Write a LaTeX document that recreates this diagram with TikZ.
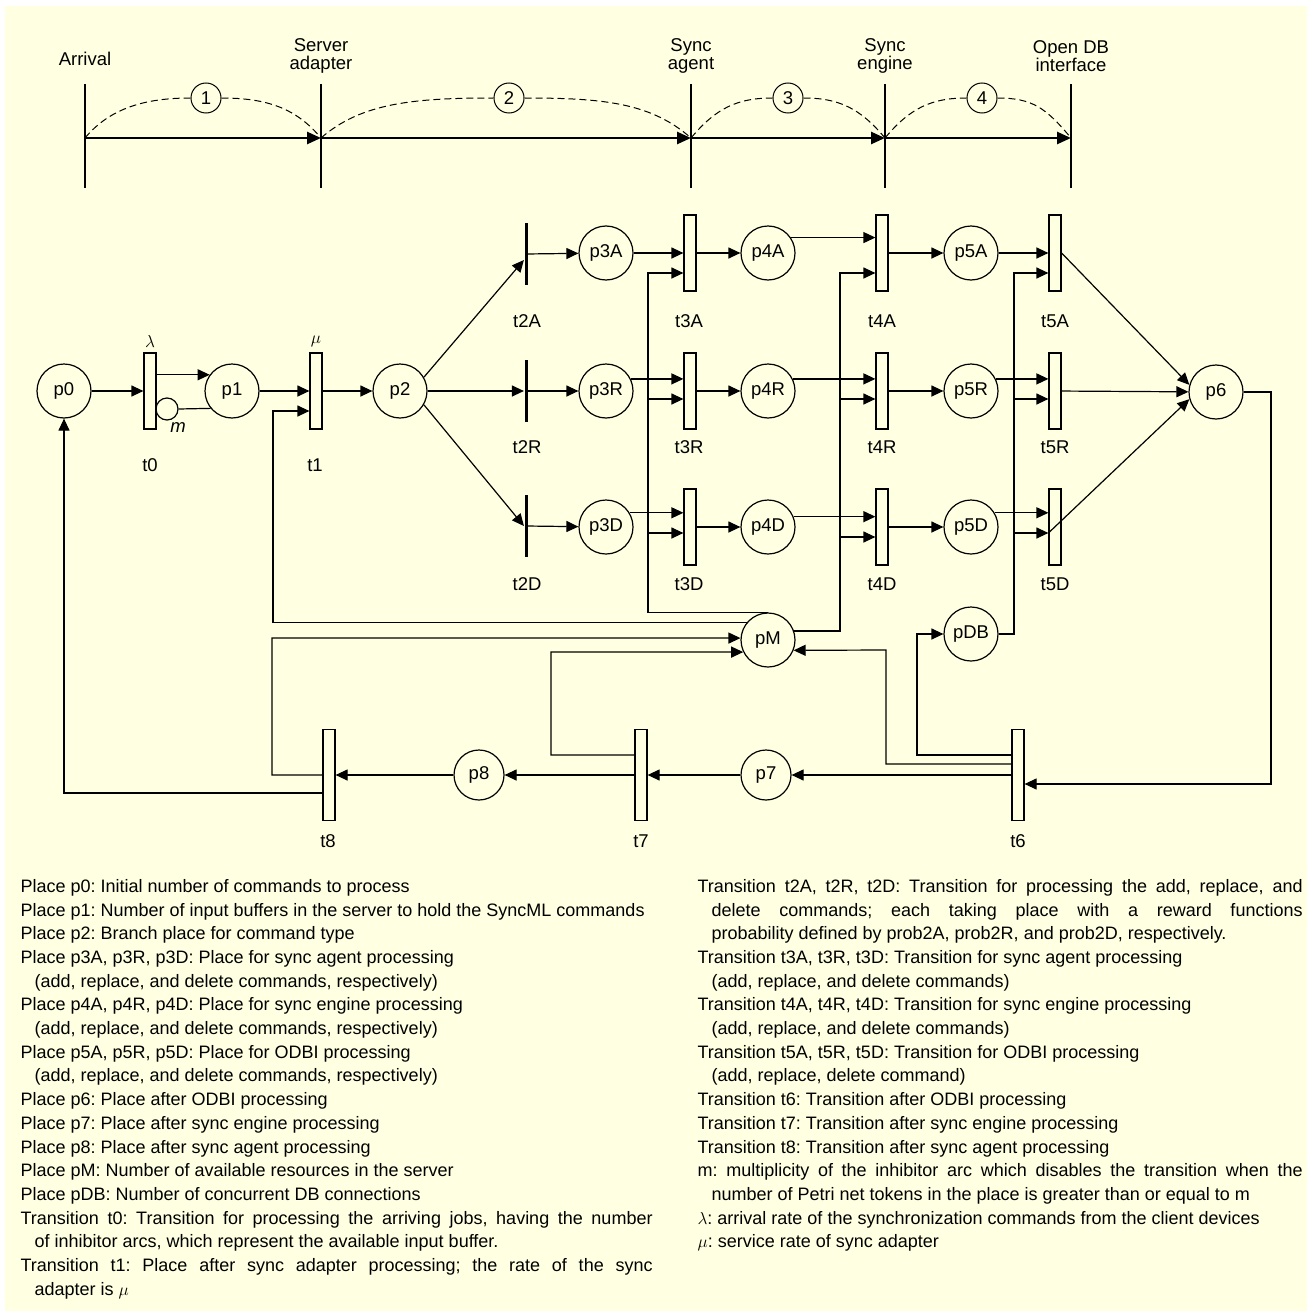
\documentclass[tikz,border=0pt]{standalone}
\usepackage{fontspec}
\setmainfont{Liberation Sans}
\usetikzlibrary{arrows.meta}
\definecolor{bgcream}{RGB}{255,255,225}
\newcommand{\legitem}{\par\hangindent=14pt\hangafter=1 }

\begin{document}
\begin{tikzpicture}[x=1pt,y=-1pt,line width=1.2pt,
    font=\fontsize{18.5}{18}\selectfont,
    place/.style={circle,draw,minimum size=54pt,inner sep=0pt},
    smallplace/.style={place,minimum size=50pt},
    trans/.style={rectangle,draw,minimum width=12pt,minimum height=76pt,inner sep=0pt},
    longtrans/.style={trans,minimum height=91pt},
    bartrans/.style={rectangle,fill=black,minimum width=3pt,minimum height=62pt,inner sep=0pt},
    flow/.style={-{Triangle[length=12pt,width=11pt]}},
    stagenum/.style={circle,draw,line width=1pt,minimum size=30pt,inner sep=0pt},
    stagebar/.style={line width=2.5pt},
    dashcurve/.style={line width=1pt,dash pattern=on 7pt off 4pt},
    legendtext/.style={anchor=north west,inner sep=0pt,align=justify,font=\fontsize{18}{23.7}\selectfont\frenchspacing}]
    % background
    \fill[white] (0,0) rectangle (1307,1311);
    \fill[bgcream] (5,6) rectangle (1307,1311);
    \useasboundingbox (0,0) rectangle (1307,1311);

    % stages on top:
    \node (arrival) at (85,59) {Arrival};
    \node[align=center] (adapter) at (321,56) {Server\\adapter};
    \node[align=center] (agent) at (691,56) {Sync\\agent};
    \node[align=center] (engine) at (885,56) {Sync\\engine};
    \node[align=center] (odbi) at (1071,56) {Open DB\\interface};
    \foreach \x in {85,321,691,885,1071}
        \draw[stagebar] (\x,84) -- (\x,188);
    \coordinate (s0) at (85,138);
    \coordinate (s1) at (321,138);
    \coordinate (s2) at (691,138);
    \coordinate (s3) at (885,138);
    \coordinate (s4) at (1071,138);
    \draw[stagebar,-{Triangle[length=14pt,width=12pt]}] (s0) -- (s1);
    \draw[stagebar,-{Triangle[length=14pt,width=12pt]}] (s1) -- (s2);
    \draw[stagebar,-{Triangle[length=14pt,width=12pt]}] (s2) -- (s3);
    \draw[stagebar,-{Triangle[length=14pt,width=12pt]}] (s3) -- (s4);
    \node[stagenum] (n1) at (206,98) {1};
    \node[stagenum] (n2) at (509,98) {2};
    \node[stagenum] (n3) at (788,98) {3};
    \node[stagenum] (n4) at (982,98) {4};
    \draw[dashcurve] (s0) .. controls +(25,-30) and +(-45,0) .. (n1.west);
    \draw[dashcurve] (n1.east) .. controls +(45,0) and +(-25,-30) .. (s1);
    \draw[dashcurve] (s1) .. controls +(40,-35) and +(-80,0) .. (n2.west);
    \draw[dashcurve] (n2.east) .. controls +(80,0) and +(-40,-35) .. (s2);
    \draw[dashcurve] (s2) .. controls +(25,-30) and +(-35,0) .. (n3.west);
    \draw[dashcurve] (n3.east) .. controls +(35,0) and +(-25,-30) .. (s3);
    \draw[dashcurve] (s3) .. controls +(25,-30) and +(-35,0) .. (n4.west);
    \draw[dashcurve] (n4.east) .. controls +(35,0) and +(-25,-30) .. (s4);

    % places and transitions:
    \node[place] (p0) at (64,391) {p0};
    \node[trans] (t0) at (150,391) {};
    \node[place] (p1) at (232,391) {p1};
    \node[trans] (t1) at (316,391) {};
    \node[place] (p2) at (400,391) {p2};
    \node[bartrans] (t2A) at (526,254) {};
    \node[bartrans] (t2R) at (526,391) {};
    \node[bartrans] (t2D) at (526,526) {};
    \node[place] (p3A) at (606,253) {p3A};
    \node[place] (p3R) at (606,391) {p3R};
    \node[place] (p3D) at (606,527) {p3D};
    \node[trans] (t3A) at (690,253) {};
    \node[trans] (t3R) at (690,391) {};
    \node[trans] (t3D) at (690,527) {};
    \node[place] (p4A) at (768,253) {p4A};
    \node[place] (p4R) at (768,391) {p4R};
    \node[place] (p4D) at (768,527) {p4D};
    \node[trans] (t4A) at (882,253) {};
    \node[trans] (t4R) at (882,391) {};
    \node[trans] (t4D) at (882,527) {};
    \node[place] (p5A) at (971,253) {p5A};
    \node[place] (p5R) at (971,391) {p5R};
    \node[place] (p5D) at (971,527) {p5D};
    \node[trans] (t5A) at (1055,253) {};
    \node[trans] (t5R) at (1055,391) {};
    \node[trans] (t5D) at (1055,527) {};
    \node[place] (p6) at (1216,392) {p6};
    \node[place] (pM) at (768,640) {pM};
    \node[place] (pDB) at (971,634) {pDB};
    \node[longtrans] (t6) at (1018,775) {};
    \node[smallplace] (p7) at (766,775) {p7};
    \node[longtrans] (t7) at (641,775) {};
    \node[smallplace] (p8) at (479,775) {p8};
    \node[longtrans] (t8) at (329,775) {};
    \node[circle,draw,minimum size=22pt,inner sep=0pt] (inh) at (167,409) {}; % inhibitor

    % labels:
    \node (lambda) at (150,341) {$\lambda$};
    \node (mu) at (316,341) {$\mu$};
    \node[font=\itshape\fontsize{18.5}{18}\selectfont] (mult) at (178,428) {m};
    \node (lt0) at (150,465) {t0};
    \node (lt1) at (315,465) {t1};
    \node (lt2A) at (527,321) {t2A};
    \node (lt2R) at (527,447) {t2R};
    \node (lt2D) at (527,584) {t2D};
    \node (lt3A) at (689,321) {t3A};
    \node (lt3R) at (689,447) {t3R};
    \node (lt3D) at (689,584) {t3D};
    \node (lt4A) at (882,321) {t4A};
    \node (lt4R) at (882,447) {t4R};
    \node (lt4D) at (882,584) {t4D};
    \node (lt5A) at (1055,321) {t5A};
    \node (lt5R) at (1055,447) {t5R};
    \node (lt5D) at (1055,584) {t5D};
    \node (lt6) at (1018,841) {t6};
    \node (lt7) at (641,841) {t7};
    \node (lt8) at (328,841) {t8};

    % arcs:
    \draw[flow] (p0) -- (t0);
    \draw[flow] (t0.east |- p1.144) -- (p1.144);
    \draw (inh.east) -- (p1.219);
    \draw[flow] (p1) -- (t1);
    \draw[flow] (pM.141) -| (273,411) -- ([yshift=-20pt]t1.west);
    \draw[flow] (t1) -- (p2);
    \draw[flow] (p2.30) -- ([yshift=-6pt]t2A.west);
    \draw[flow] (p2) -- (t2R);
    \draw[flow] (p2.330) -- (t2D.west);
    \draw[flow] (t2A) -- (p3A);
    \draw[flow] (t2R) -- (p3R);
    \draw[flow] (t2D) -- (p3D);
    \draw[flow] (p3A) -- (t3A);
    \draw[flow] (p3R.26) -- (p3R.26 -| t3R.west);
    \draw[flow] (p3D.31) -- (p3D.31 -| t3D.west);
    \draw[flow] (pM.north) -| (648,273) -- ([yshift=-20pt]t3A.west); % resources to sync agent
    \draw[flow] ([yshift=-8pt]t3R.west -| 648,0) -- ([yshift=-8pt]t3R.west);
    \draw[flow] ([yshift=-6pt]t3D.west -| 648,0) -- ([yshift=-6pt]t3D.west);
    \draw[flow] (t3A) -- (p4A);
    \draw[flow] (t3R) -- (p4R);
    \draw[flow] (t3D) -- (p4D);
    \draw[flow] (p4A.34) -- (p4A.34 -| t4A.west);
    \draw[flow] (p4R.26) -- (p4R.26 -| t4R.west);
    \draw[flow] (p4D.22) -- (p4D.22 -| t4D.west);
    \draw[flow] (pM.19) -| (840,273) -- ([yshift=-20pt]t4A.west); % resources to sync engine
    \draw[flow] ([yshift=-8pt]t4R.west -| 840,0) -- ([yshift=-8pt]t4R.west);
    \draw[flow] ([yshift=-10pt]t4D.west -| 840,0) -- ([yshift=-10pt]t4D.west);
    \draw[flow] (t4A) -- (p5A);
    \draw[flow] (t4R) -- (p5R);
    \draw[flow] (t4D) -- (p5D);
    \draw[flow] (p5A) -- (t5A);
    \draw[flow] (p5R.26) -- (p5R.26 -| t5R.west);
    \draw[flow] (p5D.31) -- (p5D.31 -| t5D.west);
    \draw[flow] (pDB.east) -| (1014,273) -- ([yshift=-20pt]t5A.west); % DB connections
    \draw[flow] ([yshift=-8pt]t5R.west -| 1014,0) -- ([yshift=-8pt]t5R.west);
    \draw[flow] ([yshift=-6pt]t5D.west -| 1014,0) -- ([yshift=-6pt]t5D.west);
    \draw[flow] (t5A.east) -- (p6.165);
    \draw[flow] (t5R) -- (p6);
    \draw[flow] ([yshift=-6pt]t5D.west) -- (p6.195);
    \draw[flow] (p6.east) -| (1271,784) -- ([yshift=-9pt]t6.east);
    \draw[flow] ([yshift=20pt]t6.west) -| (917,634) -- (pDB.west);
    \draw[flow] ([yshift=11pt]t6.west) -| (886,650) -- (pM.338);
    \draw[flow] (t6) -- (p7);
    \draw[flow] (p7) -- (t7);
    \draw[flow] ([yshift=20pt]t7.west) -| (551,652) -- (pM.206);
    \draw[flow] (t7) -- (p8);
    \draw[flow] (p8) -- (t8);
    \draw[flow] (t8.west) -| (272,638) -- (pM.176);
    \draw[flow] ([yshift=-18pt]t8.west) -| (p0.south);

    % legend:
    \node[legendtext,text width=632pt] (legleft) at (20,868) {%
        \legitem Place p0: Initial number of commands to process
        \legitem Place p1: Number of input buffers in the server to hold the SyncML commands
        \legitem Place p2: Branch place for command type
        \legitem Place p3A, p3R, p3D: Place for sync agent processing\newline (add, replace, and delete commands, respectively)
        \legitem Place p4A, p4R, p4D: Place for sync engine processing\newline (add, replace, and delete commands, respectively)
        \legitem Place p5A, p5R, p5D: Place for ODBI processing\newline (add, replace, and delete commands, respectively)
        \legitem Place p6: Place after ODBI processing
        \legitem Place p7: Place after sync engine processing
        \legitem Place p8: Place after sync agent processing
        \legitem Place pM: Number of available resources in the server
        \legitem Place pDB: Number of concurrent DB connections
        \legitem Transition t0: Transition for processing the arriving jobs, having the number\linebreak of inhibitor arcs, which represent the available input buffer.
        \legitem Transition t1: Place after sync adapter processing; the rate of the sync\linebreak adapter is $\mu$\par};
    \node[legendtext,text width=605pt] (legright) at (697,868) {%
        \legitem Transition t2A, t2R, t2D: Transition for processing the add, replace, and\linebreak delete commands; each taking place with a reward functions\linebreak probability defined by prob2A, prob2R, and prob2D, respectively.
        \legitem Transition t3A, t3R, t3D: Transition for sync agent processing\newline (add, replace, and delete commands)
        \legitem Transition t4A, t4R, t4D: Transition for sync engine processing\newline (add, replace, and delete commands)
        \legitem Transition t5A, t5R, t5D: Transition for ODBI processing\newline (add, replace, delete command)
        \legitem Transition t6: Transition after ODBI processing
        \legitem Transition t7: Transition after sync engine processing
        \legitem Transition t8: Transition after sync agent processing
        \legitem m: multiplicity of the inhibitor arc which disables the transition when the\linebreak number of Petri net tokens in the place is greater than or equal to m
        \legitem $\lambda$: arrival rate of the synchronization commands from the client devices
        \legitem $\mu$: service rate of sync adapter\par};
\end{tikzpicture}
\end{document}
